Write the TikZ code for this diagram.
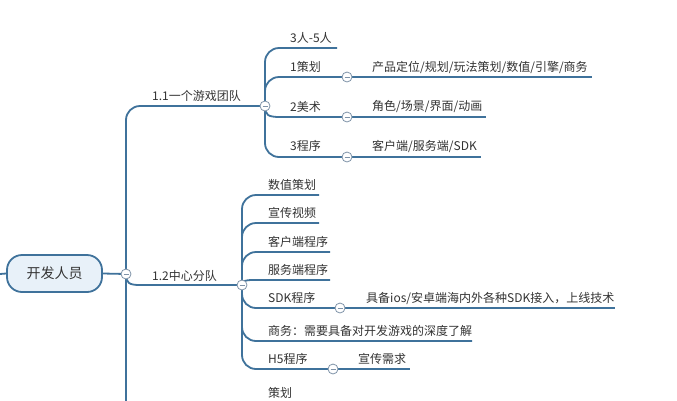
\documentclass[tikz,border=0pt]{standalone}
\usepackage{fontspec}
\setmainfont{Noto Sans CJK SC}
\definecolor{br}{HTML}{3F729B}
\definecolor{rootfill}{HTML}{E8F1F9}
\definecolor{circ}{HTML}{7F93A8}
\definecolor{txt}{HTML}{333333}
\begin{document}
\begin{tikzpicture}[x=1pt,y=-1pt,
  line/.style={draw=br,line width=1.8pt},
  lbl/.style={anchor=west,inner sep=0pt,text=txt,font=\fontsize{12}{14}\selectfont},
  rootbox/.style={draw=br,line width=1.8pt,fill=rootfill,rounded corners=15pt,minimum width=95pt,minimum height=37pt,text=txt,font=\fontsize{14}{16}\selectfont},
  fold/.style={circle,draw=circ,line width=0.8pt,fill=white,minimum size=10pt,inner sep=0pt,
    path picture={\draw[circ,line width=0.9pt] ([xshift=-2.5pt]path picture bounding box.center) -- ([xshift=2.5pt]path picture bounding box.center);}},
  rc/.style={rounded corners=14pt}]
\clip (0,0) rectangle (677,400);
\fill[white] (0,0) rectangle (677,400);

% coordinates
\coordinate (lft) at (0,274);
\coordinate (tbot) at (126,420);
\coordinate (c0p) at (126,274);
\coordinate (c11p) at (265,106);
\coordinate (c12p) at (242,285);
\coordinate (e1a) at (337,48);
\coordinate (e1b) at (592,77);
\coordinate (e1c) at (486,117);
\coordinate (e1d) at (481,157);
\coordinate (e2a) at (319,195);
\coordinate (e2b) at (319,223);
\coordinate (e2c) at (330,252);
\coordinate (e2d) at (330,280);
\coordinate (e2f) at (472,341);
\coordinate (eSDK) at (615,308);
\coordinate (eH5) at (410,369);

% root
\node[rootbox] (root) at (54.5,273.5) {开发人员};
\draw[line] (lft) -- (root.west);
\draw[line] (root.east) -- (c0p);

% trunk and 1.1
\draw[line,rc] (tbot) |- (c11p);
% 1.2
\draw[line] (c0p) .. controls (126,283) and (129,285) .. (140,285) -- (c12p);

% 1.1 children
\draw[line,rc] (c11p) |- (e1a);
\draw[line,rc] (c11p) |- (347,77);
\draw[line] (c11p) .. controls (265,115) and (268,117) .. (280,117) -- (347,117);
\draw[line,rc] (c11p) |- (347,157);
\draw[line] (347,77) -- (e1b);
\draw[line] (347,117) -- (e1c);
\draw[line] (347,157) -- (e1d);

% 1.2 children
\draw[line,rc] (c12p) |- (e2a);
\draw[line,rc] (c12p) |- (e2b);
\draw[line,rc] (c12p) |- (e2c);
\draw[line] (c12p) .. controls (242,281) and (244,280) .. (254,280) -- (e2d);
\draw[line,rc] (c12p) |- (340,308);
\draw[line,rc] (c12p) |- (e2f);
\draw[line,rc] (c12p) |- (333,369);
\draw[line] (340,308) -- (eSDK);
\draw[line] (333,369) -- (eH5);

% fold circles
\node[fold] (c0) at (c0p) {};
\node[fold] (c11) at (c11p) {};
\node[fold] (c12) at (c12p) {};
\node[fold] (c1b) at (347,77) {};
\node[fold] (c1c) at (347,117) {};
\node[fold] (c1d) at (347,157) {};
\node[fold] (cSDK) at (340,308) {};
\node[fold] (cH5) at (333,369) {};

% labels
\node[lbl] (l11) at (152,96) {1.1一个游戏团队};
\node[lbl] (l12) at (152,276) {1.2中心分队};
\node[lbl] (la) at (290,38) {3人-5人};
\node[lbl] (lb) at (290,67) {1策划};
\node[lbl] (lc) at (290,107) {2美术};
\node[lbl] (ld) at (290,146) {3程序};
\node[lbl] (lbb) at (372,67) {产品定位/规划/玩法策划/数值/引擎/商务};
\node[lbl] (lcc) at (372,107) {角色/场景/界面/动画};
\node[lbl] (ldd) at (372,146) {客户端/服务端/SDK};
\node[lbl] (m1) at (268,185) {数值策划};
\node[lbl] (m2) at (268,213) {宣传视频};
\node[lbl] (m3) at (268,242) {客户端程序};
\node[lbl] (m4) at (268,270) {服务端程序};
\node[lbl] (m5) at (268,298) {SDK程序};
\node[lbl] (m6) at (268,331) {商务：需要具备对开发游戏的深度了解};
\node[lbl] (m7) at (268,359) {H5程序};
\node[lbl] (m8) at (268,393) {策划};
\node[lbl] (sdk) at (366,298) {具备ios/安卓端海内外各种SDK接入，上线技术};
\node[lbl] (h5) at (358,359) {宣传需求};
\end{tikzpicture}
\end{document}
